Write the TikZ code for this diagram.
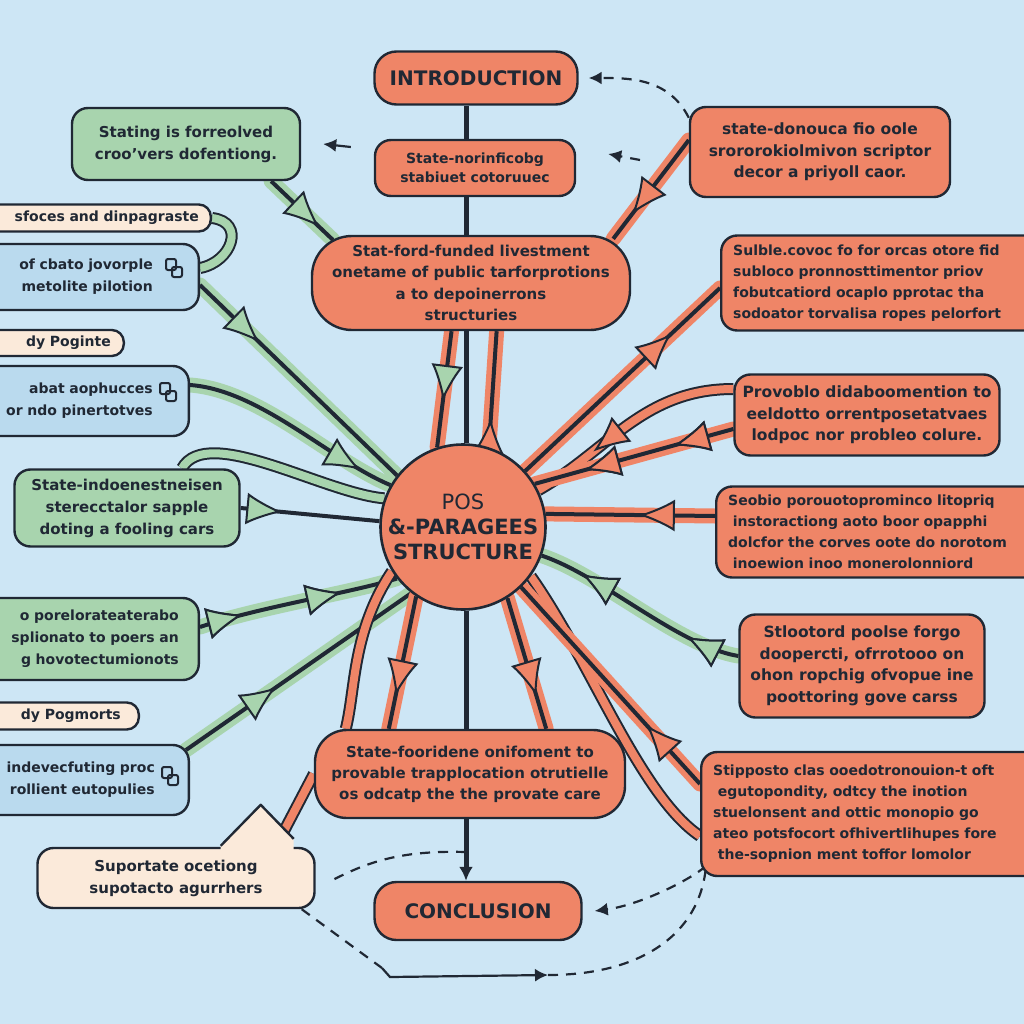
\documentclass[tikz,border=0pt]{standalone}
\usepackage{fontspec}
\setmainfont{DejaVu Sans}
\usetikzlibrary{arrows.meta,decorations.markings,calc}
\definecolor{bgc}{RGB}{205,230,245}
\definecolor{orng}{RGB}{239,133,103}
\definecolor{grn}{RGB}{168,212,174}
\definecolor{blu}{RGB}{186,218,238}
\definecolor{crm}{RGB}{251,234,218}
\definecolor{dark}{RGB}{32,40,52}
\pgfdeclarelayer{back}
\pgfdeclarelayer{mid}
\pgfsetlayers{back,mid,main}
\begin{document}
\begin{tikzpicture}[x=1pt,y=-1pt,
  box/.style={draw=dark,line width=2.4pt,rounded corners=16pt,align=center,inner sep=3pt,
    text=dark,font=\fontsize{15.5}{21.5}\selectfont\bfseries},
  obox/.style={box,fill=orng},
  gbox/.style={box,fill=grn,font=\fontsize{15}{22}\selectfont\bfseries},
  bbox/.style={box,fill=blu,font=\fontsize{15}{22}\selectfont\bfseries},
  cbox/.style={box,fill=crm,font=\fontsize{15}{22}\selectfont\bfseries},
  pillbox/.style={box,fill=crm,rounded corners=12pt,font=\fontsize{15}{17}\selectfont\bfseries},
  leftcut/.style={anchor=east,text width=260pt,align=right,inner xsep=#1,font=\fontsize{14}{22}\selectfont\bfseries},
  rightcut/.style={anchor=west,text width=420pt,align=left,inner xsep=#1,font=\fontsize{14}{21}\selectfont\bfseries},
  titlebox/.style={obox,rounded corners=22pt,font=\fontsize{20}{24}\selectfont\bfseries},
  conn/.style={draw=dark,line width=4pt},
  ribG/.style={preaction={draw=grn,line width=15pt,line cap=round}},
  ribO/.style={preaction={draw=orng,line width=15pt,line cap=round}},
  band/.style={draw=dark,line width=12pt,postaction={draw=#1,line width=8pt}},
  fin/.style 2 args={postaction={decorate},decoration={markings,
    mark=at position #1 with {\arrow{Latex[length=36pt,width=32pt,fill=#2,line width=2pt]}}}},
  finr/.style 2 args={postaction={decorate},decoration={markings,
    mark=at position #1 with {\arrowreversed{Latex[length=36pt,width=32pt,fill=#2,line width=2pt]}}}},
  dashline/.style={draw=dark,line width=2.2pt,dash pattern=on 10pt off 8pt},
  tipk/.style={-{Latex[length=13pt,width=13pt]}},
  spine/.style={draw=dark,line width=5pt}]
\useasboundingbox (0,0) rectangle (1024,1024);
\begin{pgfonlayer}{back}
\fill[bgc] (0,0) rectangle (1024,1024);
\end{pgfonlayer}

% ---- centre column
\node[titlebox,minimum width=203pt,minimum height=53pt] (intro) at (476,78) {INTRODUCTION};
\node[obox,minimum width=200pt,minimum height=56pt,font=\fontsize{14}{19}\selectfont\bfseries] (boxA) at (475,168) {State-norinficobg\\stabiuet cotoruuec};
\node[obox,rounded corners=40pt,minimum width=318pt,minimum height=94pt,font=\fontsize{15}{21.5}\selectfont\bfseries] (boxB) at (471,283) {Stat-ford-funded livestment\\onetame of public tarforprotions\\a to depoinerrons\\structuries};
\node[circle,draw=dark,line width=2.6pt,fill=orng,minimum size=165pt,inner sep=0pt,align=center,text=dark,
  font=\fontsize{21}{25}\selectfont\bfseries] (hub) at (463,527) {{\mdseries POS}\\\&-PARAGEES\\STRUCTURE};
\node[obox,rounded corners=32pt,minimum width=310pt,minimum height=88pt,font=\fontsize{15}{21}\selectfont\bfseries] (boxC) at (470,774) {State-fooridene onifoment to\\provable trapplocation otrutielle\\os odcatp the the provate care};
\node[titlebox,minimum width=207pt,minimum height=58pt] (concl) at (478,911) {CONCLUSION};

% ---- left column
\node[gbox,minimum width=228pt,minimum height=72pt] (g1) at (186,144) {Stating is forreolved\\croo'vers dofentiong.};
\node[pillbox,leftcut=12pt,minimum height=27pt] (p1) at (212,218) {sfoces and dinpagraste};
\node[bbox,leftcut=46pt,minimum height=66pt] (b1) at (200,277) {of cbato jovorple\\metolite pilotion};
\node[pillbox,leftcut=13pt,minimum height=26pt] (p2) at (125,343) {dy Poginte};
\node[bbox,leftcut=36pt,minimum height=70pt] (b2) at (190,401) {abat aophucces\\or ndo pinertotves};
\node[gbox,minimum width=225pt,minimum height=77pt] (g2) at (127,508) {State-indoenestneisen\\sterecctalor sapple\\doting a fooling cars};
\node[gbox,leftcut=20pt,minimum height=82pt] (g3) at (200,639) {o porelorateaterabo\\splionato to poers an\\g hovotectumionots};
\node[pillbox,leftcut=18pt,minimum height=27pt] (p3) at (140,716) {dy Pogmorts};
\node[bbox,leftcut=34pt,minimum height=70pt] (b3) at (190,780) {indevecfuting proc\\rollient eutopulies};
\node[cbox,minimum width=277pt,minimum height=60pt] (c1) at (176,878) {Suportate ocetiong\\supotacto agurrhers};

% ---- right column
\node[obox,minimum width=260pt,minimum height=90pt] (r1) at (820,152) {state-donouca fio oole\\srororokiolmivon scriptor\\decor a priyoll caor.};
\node[obox,rightcut=12pt,minimum height=95pt] (r2) at (720,283) {Sulble.covoc fo for orcas otore fid\\subloco pronnosttimentor priov\\ fobutcatiord ocaplo pprotac tha\\sodoator torvalisa ropes pelorfort};
\node[obox,minimum width=265pt,minimum height=81pt] (r3) at (867,415) {Provoblo didaboomention to\\eeldotto orrentposetatvaes\\lodpoc nor probleo colure.};
\node[obox,rightcut=12pt,minimum height=91pt] (r4) at (715,532) {Seobio porouotoprominco litopriq\\ \ instoractiong aoto boor opapphi\\dolcfor the corves oote do norotom\\ \ inoewion inoo monerolonniord};
\node[obox,minimum width=245pt,minimum height=103pt] (r5) at (862,666) {Stlootord poolse forgo\\doopercti, ofrrotooo on\\ohon ropchig ofvopue ine\\poottoring gove carss};
\node[obox,rightcut=12pt,minimum height=124pt] (r6) at (700,814) {Stipposto clas ooedotronouion-t oft\\ \ egutopondity, odtcy the inotion\\ stuelonsent and ottic monopio go\\ateo potsfocort ofhivertlihupes fore\\ \ the-sopnion ment toffor lomolor};

% small link icons
\foreach \ix/\iy in {174/268, 168/392, 170/776}{
  \draw[dark,line width=2pt,rounded corners=2pt] (\ix-8,\iy-9) rectangle (\ix+2,\iy+2);
  \draw[dark,line width=2pt,rounded corners=2pt] (\ix-2,\iy-1) rectangle (\ix+8,\iy+9);
}

% speech tail of the supporting box
\fill[crm] ([xshift=-95pt,yshift=2pt]c1.north east) -- ([xshift=-55pt,yshift=42pt]c1.north east) -- ([xshift=-22pt,yshift=8pt]c1.north east) -- ([xshift=-22pt,yshift=-4pt]c1.north east) -- ([xshift=-95pt,yshift=-4pt]c1.north east) -- cycle;
\draw[dark,line width=2.4pt,line join=round] ([xshift=-95pt,yshift=1pt]c1.north east) -- ([xshift=-55pt,yshift=42pt]c1.north east) -- ([xshift=-22pt,yshift=8pt]c1.north east);

\begin{pgfonlayer}{mid}
% spine
\coordinate (sp) at (466,0);
\draw[spine] (intro.south -| sp) -- (boxA.north -| sp);
\draw[spine] (boxA.south -| sp) -- (boxB.north -| sp);
\draw[spine] (boxB.south -| sp) -- (hub.north -| sp);
\draw[spine] (hub.south -| sp) -- (boxC.north -| sp);
\draw[spine,-{Latex[length=14pt,width=14pt]}] (boxC.south -| sp) -- (concl.north -| sp);

% left connectors
\draw[conn,ribG,fin={0.78}{grn}] ([xshift=-30pt]g1.south east) -- ([xshift=22pt,yshift=-5pt]boxB.north west);
\draw[band=grn] (p1.east) .. controls +(34,4) and +(32,-6) .. ([yshift=9pt]b1.east);
\draw[conn,ribG,fin={0.3}{grn}] ([yshift=-8pt]b1.east) -- (hub.142);
\draw[band=grn] ([xshift=55pt]g2.north) .. controls +(25,-45) and +(-60,-5) .. (hub.160);
\draw[conn,ribG,fin={0.85}{grn}] ([yshift=16pt]b2.east) .. controls +(70,5) and +(-60,-25) .. (hub.150);
\draw[conn,fin={0.3}{grn}] (g2.east) -- (hub.176);
\draw[conn,ribG,fin={0.22}{grn},fin={0.72}{grn}] ([yshift=12pt]g3.east) .. controls +(60,-20) and +(-50,15) .. (hub.218);
\draw[conn,ribG,fin={0.4}{grn}] ([yshift=30pt,xshift=-4pt]b3.east) -- (hub.232);
\draw[band=orng] ([xshift=-40pt]c1.north east) -- (boxC.west);

% boxB to hub
\draw[conn,ribO,fin={0.6}{grn}] (boxB.-112) -- (hub.108);
\draw[conn,ribO,finr={0.75}{orng}] (boxB.-62) -- (hub.72);

% right connectors
\draw[conn,ribO,fin={0.75}{orng}] ([yshift=12pt]r1.west) -- ([xshift=-18pt,yshift=-4pt]boxB.north east);
\draw[conn,ribO,finr={0.25}{orng}] ([yshift=-5pt]r2.west) -- (hub.42);
\draw[band=orng,fin={0.7}{orng}] ([yshift=26pt]r3.west) .. controls +(-90,0) and +(70,-40) .. (hub.26);
\draw[conn,ribO,fin={0.3}{orng},fin={0.75}{orng}] ([yshift=-14pt]r3.west) -- (hub.31);
\draw[conn,ribO,fin={0.45}{orng}] ([yshift=16pt]r4.west) -- (hub.9);
\draw[conn,ribG,fin={0.25}{grn},fin={0.8}{grn}] ([yshift=10pt]r5.west) .. controls +(-60,-10) and +(60,20) .. (hub.-20);
\draw[band=orng] (hub.-36) .. controls +(60,85) and +(-60,-40) .. ([yshift=-22pt]r6.west);
\draw[conn,ribO,fin={0.3}{orng}] ([yshift=30pt]r6.west) -- (hub.-46);

% hub to boxC
\draw[conn,ribO,fin={0.75}{orng}] (hub.236) -- ([xshift=75pt]boxC.north west);
\draw[conn,ribO,fin={0.75}{orng}] (hub.-58) -- ([xshift=-80pt]boxC.north east);
\draw[band=orng] (hub.212) .. controls +(-40,60) and +(10,-40) .. (boxC.160);

% dashed and thin arrows
\draw[dashline,tipk] ([yshift=-12pt]r1.north west) .. controls +(-20,-40) and +(40,0) .. ([xshift=10pt]intro.east);
\coordinate (s1) at (640,160);
\draw[dashline,tipk] (s1) -- ([xshift=32pt,yshift=14pt]boxA.east);
\draw[draw=dark,line width=2.2pt,tipk] ([xshift=-23pt,yshift=21pt]boxA.west) -- ([xshift=22pt]g1.east);
\coordinate (m1) at (466,852);
\draw[dashline] (m1) .. controls +(-70,-2) and +(35,-18) .. ([xshift=13pt,yshift=-4pt]c1.east);
\coordinate (q1) at (382,968);
\coordinate (q2) at (548,975);
\coordinate (q3) at (706,866);
\draw[dashline] ([xshift=-14pt]c1.south east) -- (q1);
\draw[draw=dark,line width=2.2pt,tipk] (q1) -- ($(q1)+(8,9)$) -- (q2);
\draw[dashline] (q2) .. controls (640,975) and (700,935) .. (q3);
\draw[dashline,tipk] (q3) .. controls (690,880) and (640,905) .. ([xshift=12pt]concl.east);
\end{pgfonlayer}
\end{tikzpicture}
\end{document}
